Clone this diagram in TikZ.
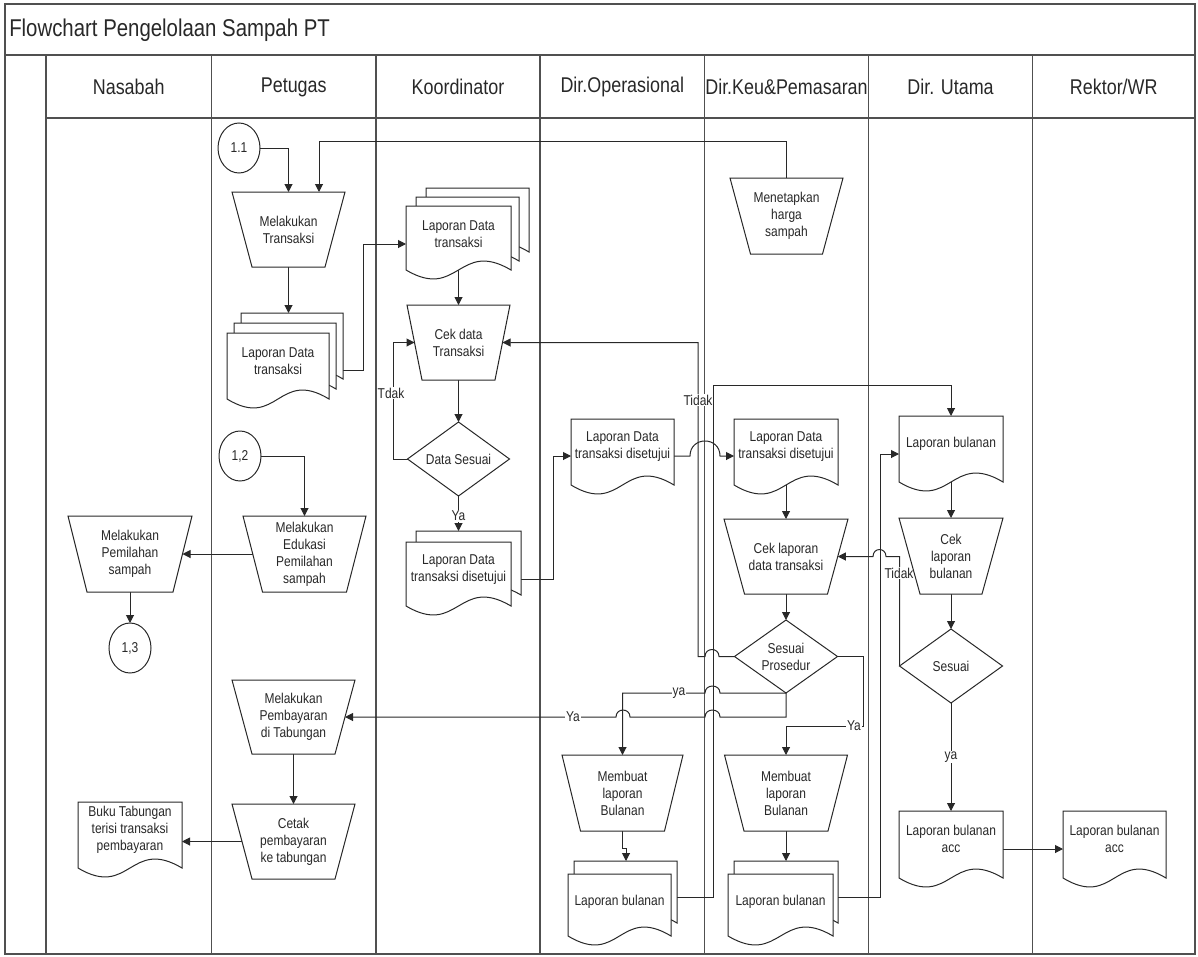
\documentclass[tikz,border=0pt]{standalone}
\usepackage{fontspec}
\setmainfont{Liberation Sans}[FakeStretch=0.84]
\usetikzlibrary{shapes.geometric,arrows.meta,calc}
\pgfdeclarelayer{back}
\pgfsetlayers{back,main}
\definecolor{ink}{RGB}{40,40,40}
\definecolor{rule}{RGB}{80,80,80}
\tikzset{
 shp/.style={draw=ink, line width=0.75pt, fill=white, line join=miter},
 body/.style={draw=none, inner sep=0pt, outer sep=0pt, rectangle},
 txt/.style={inner sep=0pt, outer sep=0pt, align=center, text=ink, font=\fontsize{10.7}{12.75}\selectfont},
 conn/.style={draw=ink, line width=0.75pt},
 arr/.style={conn, -{Triangle[length=6pt,width=6pt]}},
 lbl/.style={txt, fill=white, inner sep=0.6pt},
 lane/.style={draw=rule, line width=1.2pt},
 hdr/.style={text=ink, font=\fontsize{16}{19}\selectfont, inner sep=0pt},
 onpage/.style={ellipse, draw=ink, line width=0.75pt, fill=white, minimum width=31.5pt, minimum height=37.5pt, txt}
}
\newcommand\docpath[4]{\draw[shp] (#1,{#2+#4}) -- (#1,#2) -- ({#1+#3},#2) -- ({#1+#3},{#2+#4}) .. controls ({#1+#3/2},{#2+#4-31}) and ({#1+#3/2},{#2+#4+31}) .. (#1,{#2+#4}) -- cycle;}
\newcommand\docnode[6]{\docpath{#2}{#3}{#4}{#5}\node[body, minimum width={#4*0.75pt}, minimum height={#5*0.75pt}] (#1) at ({#2+#4/2},{#3+#5/2}) {};\node[txt] (#1-t) at ({#2+#4/2},{#3+28}) {#6};}
\newcommand\trapnode[7]{\draw[shp] ({#2-#4/2},{#3-#6/2}) -- ({#2+#4/2},{#3-#6/2}) -- ({#2+#5/2},{#3+#6/2}) -- ({#2-#5/2},{#3+#6/2}) -- cycle;\node[txt, minimum width={(#4+#5)/2*0.75pt}, minimum height={#6*0.75pt}] (#1) at (#2,#3) {#7};}
\newcommand\diamnode[6]{\draw[shp] ({#2-#4/2},#3) -- (#2,{#3-#5/2}) -- ({#2+#4/2},#3) -- (#2,{#3+#5/2}) -- cycle;\node[txt, minimum width={#4*0.75pt}, minimum height={#5*0.75pt}] (#1) at (#2,#3) {#6};}
\begin{document}
\begin{tikzpicture}[x=0.75pt,y=-0.75pt]
\useasboundingbox (0,0) rectangle (1198,956);
% ---------- Nasabah ----------
\trapnode{t5}{130}{554}{124}{86}{76}{Melakukan\\Pemilahan\\sampah}
\node[onpage] (c13) at (130,648) {1,3};
\docnode{d1}{78}{802}{104}{66}{Buku Tabungan\\terisi transaksi\\pembayaran}
% ---------- Petugas ----------
\node[onpage] (c11) at (239,148) {1.1};
\trapnode{t1}{288.5}{229.5}{113}{73}{75}{Melakukan\\Transaksi}
\docpath{241}{313}{102}{66}
\docpath{234}{323}{102}{66}
\docnode{md1}{227}{333}{102}{66}{Laporan Data\\transaksi}
\node[onpage] (c12) at (240,456) {1,2};
\trapnode{t2}{304.5}{554}{123}{84}{76}{Melakukan\\Edukasi\\Pemilahan\\sampah}
\trapnode{t3}{293.5}{717}{123}{83}{74}{Melakukan\\Pembayaran\\di Tabungan}
\trapnode{t4}{293.5}{841.5}{123}{83}{75}{Cetak\\pembayaran\\ke tabungan}
% ---------- Koordinator ----------
\docpath{426}{188}{103}{64}
\docpath{416}{197}{103}{64}
\docnode{md2}{406}{206}{105}{64}{Laporan Data\\transaksi}
\trapnode{t6}{458.5}{342.5}{103}{73}{75}{Cek data\\Transaksi}
\diamnode{dm1}{458.5}{459}{102}{74}{Data Sesuai}
\docpath{416}{531}{105}{64}
\docnode{md3}{406}{542}{105}{64}{Laporan Data\\transaksi disetujui}
% ---------- Dir.Operasional ----------
\docnode{d2}{571}{419}{103}{66}{Laporan Data\\transaksi disetujui}
\trapnode{t7}{622.5}{793}{121}{84}{76}{Membuat\\laporan\\Bulanan}
\docpath{574}{861}{103}{62}
\docnode{md4}{568}{874}{103}{62}{Laporan bulanan}
% ---------- Dir.Keu ----------
\trapnode{t0}{786.5}{216}{113}{72}{76}{Menetapkan\\harga\\sampah}
\docnode{d3}{734}{419}{104}{66}{Laporan Data\\transaksi disetujui}
\trapnode{t8}{786}{556.5}{124}{83}{75}{Cek laporan\\data transaksi}
\diamnode{dm2}{786}{656.5}{103}{73}{Sesuai\\Prosedur}
\trapnode{t9}{786}{793}{123}{84}{76}{Membuat\\laporan\\Bulanan}
\docpath{734}{861}{104}{62}
\docnode{md5}{728}{874}{105}{62}{Laporan bulanan}
% ---------- Dir.Utama ----------
\docnode{d4}{899}{416}{104}{66}{Laporan bulanan}
\trapnode{t10}{951}{556}{104}{62}{76}{Cek\\laporan\\bulanan}
\diamnode{dm3}{951}{666}{103}{74}{Sesuai}
\docnode{d5}{899}{811}{104}{67}{Laporan bulanan\\acc}
% ---------- Rektor ----------
\docnode{d6}{1063}{811}{103}{67}{Laporan bulanan\\acc}
% ---------- background: frame, lanes, connectors ----------
\begin{pgfonlayer}{back}
\draw[lane] (5,4) rectangle (1195,954);
\draw[lane] (5,55) -- (1195,55);
\draw[lane] (46,118) -- (1195,118);
\foreach \x in {46,211.5,376,540,704.5,868.5,1032.5} \draw[lane] (\x,55) -- (\x,954);
\node[anchor=west, text=ink, font=\fontsize{18.2}{21}\selectfont, inner sep=0pt] (title) at (9,30) {Flowchart Pengelolaan Sampah PT};
\node[hdr] (h1) at (128.75,87) {Nasabah};
\node[hdr] (h2) at (293.75,87) {Petugas};
\node[hdr] (h3) at (458,87) {Koordinator};
\node[hdr] (h4) at (622.25,87) {Dir.Operasional};
\node[hdr] (h5) at (786.5,87) {Dir.Keu\&Pemasaran};
\node[hdr] (h6) at (950.5,87) {Dir. Utama};
\node[hdr] (h7) at (1113.75,87) {Rektor/WR};
% Petugas / Nasabah flows
\draw[arr] (c11.east) -| (t1.north);
\coordinate (k1) at (319,141);
\draw[arr] (t0.north) |- (k1) -- (k1 |- t1.north);
\coordinate (md1top) at (288.5,313);
\draw[arr] (t1.south) -- (md1top);
\coordinate (md1r) at (343,370);
\coordinate (j1) at (363,370);
\draw[arr] (md1r) -- (j1) |- ($(md2.west)+(0,6)$);
\draw[arr] (c12.east) -| (t2.north);
\draw[arr] (t2.west) -- (t5.east);
\draw[arr] (t5.south) -- (c13.north);
\draw[arr] (t3.south) -- (t4.north);
\draw[arr] (t4.west) -- (t4.west -| d1.east);
% Koordinator
\draw[arr] (md2.south -| t6.north) -- (t6.north);
\draw[arr] (t6.south) -- (dm1.north);
\draw[arr] (dm1.west) -- ++(-14,0) |- (t6.west);
\node[lbl] (l1) at (391,393) {Tdak};
\coordinate (md3top) at (458.5,531);
\draw[arr] (dm1.south) -- (md3top);
\node[lbl] (l2) at (458.5,516) {Ya};
\coordinate (md3r) at (521,579);
\coordinate (j2) at (553,579);
\draw[arr] (md3r) -- (j2) |- ($(d2.west)+(0,4)$);
% Dir.O -> Dir.Keu
\draw[arr] ($(d2.east)+(0,4)$) -- (690,456) .. controls (690,436) and (720,436) .. (720,456) -- ($(d3.west)+(0,4)$);
\draw[arr] (d3.south) -- (t8.north);
\draw[arr] (t8.south) -- (dm2.north);
\draw[arr] (dm2.west) -- (719,656.5) .. controls (719,647.2) and (705,647.2) .. (705,656.5) -- (698,656.5) |- (t6.east);
\node[lbl] (l3) at (698,400) {Tidak};
\draw[arr] (dm2.south) -- (720,693) .. controls (720,683.7) and (705,683.7) .. (705,693) -| (t7.north);
\node[lbl] (l4) at (679,693) {ya};
\draw[arr] (dm2.south) -- (786,717) -- (720,717) .. controls (720,707.7) and (705,707.7) .. (705,717) -- (630,717) .. controls (630,707.7) and (616,707.7) .. (616,717) -- (t3.east);
\node[lbl] (l5) at (573,717) {Ya};
\draw[arr] (dm2.east) -- (863,656.5) -- (863,726) -| (t9.north);
\node[lbl] (l6) at (854,726) {Ya};
\draw[arr] (t7.south) -- ++(0,17) -- ++(3.5,0) -- ++(0,13);
\draw[arr] (t9.south) -- ++(0,30);
\coordinate (md4r) at (677,897);
\draw[arr] (md4r) -- (713,897) -- (713,385) -| (d4.north);
\coordinate (md5r) at (838,897);
\draw[arr] (md5r) -- (880,897) |- ($(d4.west)+(0,5)$);
% Dir.Utama
\draw[arr] (d4.south) -- (t10.north);
\draw[arr] (t10.south) -- (dm3.north);
\draw[arr] (dm3.west) |- (886,556.5) .. controls (886,547.2) and (873,547.2) .. (873,556.5) -- (t8.east);
\node[lbl] (l7) at (899,573) {Tidak};
\draw[arr] (dm3.south) -- (d5.north);
\node[lbl] (l8) at (951,757) {ya};
\draw[arr] ($(d5.east)+(0,4.5)$) -- ($(d6.west)+(0,4.5)$);
\end{pgfonlayer}
\end{tikzpicture}
\end{document}
